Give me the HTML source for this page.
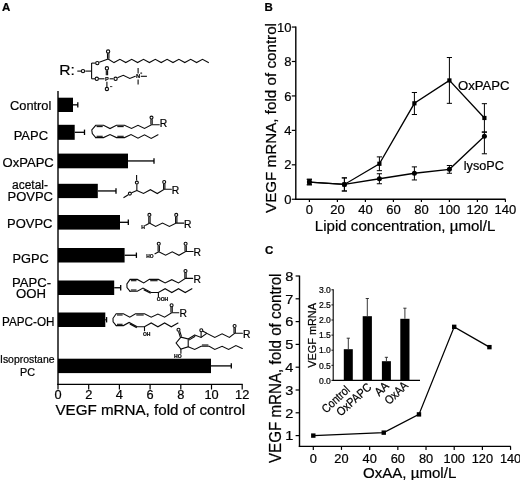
<!DOCTYPE html>
<html><head><meta charset="utf-8"><title>Figure</title>
<style>
html,body{margin:0;padding:0;background:#fff;}
body{width:520px;height:480px;overflow:hidden;}
svg{display:block;font-family:"Liberation Sans", sans-serif;filter:grayscale(1);}
text{stroke:#000;stroke-width:0.22px;}
</style></head><body>
<svg width="520" height="480" viewBox="0 0 520 480">
<rect width="520" height="480" fill="#fff"/>
<g opacity="0.999">
<text x="2" y="11" font-size="11.5" text-anchor="start" font-weight="bold" >A</text>
<text x="264.5" y="11" font-size="11.5" text-anchor="start" font-weight="bold" >B</text>
<text x="265" y="254.3" font-size="11.5" text-anchor="start" font-weight="bold" >C</text>
<line x1="58.0" y1="91" x2="58.0" y2="384.9" stroke="#000" stroke-width="1.4" stroke-linecap="butt"/>
<line x1="57.3" y1="384.3" x2="242.7" y2="384.3" stroke="#000" stroke-width="1.3" stroke-linecap="butt"/>
<line x1="58.0" y1="384.3" x2="58.0" y2="389.5" stroke="#000" stroke-width="1.2" stroke-linecap="butt"/>
<text x="58.0" y="399.4" font-size="12.8" text-anchor="middle" >0</text>
<line x1="88.7" y1="384.3" x2="88.7" y2="389.5" stroke="#000" stroke-width="1.2" stroke-linecap="butt"/>
<text x="88.7" y="399.4" font-size="12.8" text-anchor="middle" >2</text>
<line x1="119.4" y1="384.3" x2="119.4" y2="389.5" stroke="#000" stroke-width="1.2" stroke-linecap="butt"/>
<text x="119.4" y="399.4" font-size="12.8" text-anchor="middle" >4</text>
<line x1="150.1" y1="384.3" x2="150.1" y2="389.5" stroke="#000" stroke-width="1.2" stroke-linecap="butt"/>
<text x="150.1" y="399.4" font-size="12.8" text-anchor="middle" >6</text>
<line x1="180.8" y1="384.3" x2="180.8" y2="389.5" stroke="#000" stroke-width="1.2" stroke-linecap="butt"/>
<text x="180.8" y="399.4" font-size="12.8" text-anchor="middle" >8</text>
<line x1="211.5" y1="384.3" x2="211.5" y2="389.5" stroke="#000" stroke-width="1.2" stroke-linecap="butt"/>
<text x="211.5" y="399.4" font-size="12.8" text-anchor="middle" >10</text>
<line x1="242.2" y1="384.3" x2="242.2" y2="389.5" stroke="#000" stroke-width="1.2" stroke-linecap="butt"/>
<text x="242.2" y="399.4" font-size="12.8" text-anchor="middle" >12</text>
<text x="55.5" y="415" font-size="14.7" text-anchor="start" textLength="189.5" lengthAdjust="spacingAndGlyphs" >VEGF mRNA, fold of control</text>
<rect x="58.0" y="97.7" width="15.0" height="14.299999999999997" fill="#000"/>
<line x1="73.0" y1="104.85" x2="77.8" y2="104.85" stroke="#000" stroke-width="1.3" stroke-linecap="butt"/>
<line x1="77.8" y1="102.14999999999999" x2="77.8" y2="107.55" stroke="#000" stroke-width="1.3" stroke-linecap="butt"/>
<rect x="58.0" y="124.8" width="16.700000000000003" height="15.000000000000014" fill="#000"/>
<line x1="74.7" y1="132.3" x2="84.5" y2="132.3" stroke="#000" stroke-width="1.3" stroke-linecap="butt"/>
<line x1="84.5" y1="129.60000000000002" x2="84.5" y2="135.0" stroke="#000" stroke-width="1.3" stroke-linecap="butt"/>
<rect x="58.0" y="153.6" width="70.0" height="14.700000000000017" fill="#000"/>
<line x1="128.0" y1="160.95" x2="154.0" y2="160.95" stroke="#000" stroke-width="1.3" stroke-linecap="butt"/>
<line x1="154.0" y1="158.25" x2="154.0" y2="163.64999999999998" stroke="#000" stroke-width="1.3" stroke-linecap="butt"/>
<rect x="58.0" y="183.8" width="39.8" height="14.299999999999983" fill="#000"/>
<line x1="97.8" y1="190.95" x2="116.0" y2="190.95" stroke="#000" stroke-width="1.3" stroke-linecap="butt"/>
<line x1="116.0" y1="188.25" x2="116.0" y2="193.64999999999998" stroke="#000" stroke-width="1.3" stroke-linecap="butt"/>
<rect x="58.0" y="215.0" width="62.0" height="14.599999999999994" fill="#000"/>
<line x1="120.0" y1="222.3" x2="128.3" y2="222.3" stroke="#000" stroke-width="1.3" stroke-linecap="butt"/>
<line x1="128.3" y1="219.60000000000002" x2="128.3" y2="225.0" stroke="#000" stroke-width="1.3" stroke-linecap="butt"/>
<rect x="58.0" y="248.0" width="66.6" height="14.5" fill="#000"/>
<line x1="124.6" y1="255.25" x2="136.4" y2="255.25" stroke="#000" stroke-width="1.3" stroke-linecap="butt"/>
<line x1="136.4" y1="252.55" x2="136.4" y2="257.95" stroke="#000" stroke-width="1.3" stroke-linecap="butt"/>
<rect x="58.0" y="280.5" width="56.2" height="14.5" fill="#000"/>
<line x1="114.2" y1="287.75" x2="120.7" y2="287.75" stroke="#000" stroke-width="1.3" stroke-linecap="butt"/>
<line x1="120.7" y1="285.05" x2="120.7" y2="290.45" stroke="#000" stroke-width="1.3" stroke-linecap="butt"/>
<rect x="58.0" y="312.5" width="47.3" height="14.5" fill="#000"/>
<line x1="105.3" y1="319.75" x2="106.6" y2="319.75" stroke="#000" stroke-width="1.3" stroke-linecap="butt"/>
<line x1="106.6" y1="317.05" x2="106.6" y2="322.45" stroke="#000" stroke-width="1.3" stroke-linecap="butt"/>
<rect x="58.0" y="358.7" width="153.0" height="14.400000000000034" fill="#000"/>
<line x1="211.0" y1="365.9" x2="231.3" y2="365.9" stroke="#000" stroke-width="1.3" stroke-linecap="butt"/>
<line x1="231.3" y1="363.2" x2="231.3" y2="368.59999999999997" stroke="#000" stroke-width="1.3" stroke-linecap="butt"/>
<text x="10" y="110" font-size="13.7" text-anchor="start" textLength="41.3" lengthAdjust="spacingAndGlyphs" >Control</text>
<text x="13.7" y="139.5" font-size="13.7" text-anchor="start" textLength="34.3" lengthAdjust="spacingAndGlyphs" >PAPC</text>
<text x="2.5" y="167" font-size="13.7" text-anchor="start" textLength="51.3" lengthAdjust="spacingAndGlyphs" >OxPAPC</text>
<text x="12" y="188.7" font-size="13.7" text-anchor="start" textLength="36" lengthAdjust="spacingAndGlyphs" >acetal-</text>
<text x="7.5" y="201" font-size="13.7" text-anchor="start" textLength="45.5" lengthAdjust="spacingAndGlyphs" >POVPC</text>
<text x="7" y="227.5" font-size="13.7" text-anchor="start" textLength="45.5" lengthAdjust="spacingAndGlyphs" >POVPC</text>
<text x="12.5" y="262.5" font-size="13.7" text-anchor="start" textLength="36.3" lengthAdjust="spacingAndGlyphs" >PGPC</text>
<text x="12" y="287" font-size="13.7" text-anchor="start" textLength="39" lengthAdjust="spacingAndGlyphs" >PAPC-</text>
<text x="16" y="298" font-size="13.7" text-anchor="start" textLength="30" lengthAdjust="spacingAndGlyphs" >OOH</text>
<text x="2" y="325.8" font-size="13.7" text-anchor="start" textLength="52.5" lengthAdjust="spacingAndGlyphs" >PAPC-OH</text>
<text x="0" y="363" font-size="10.5" text-anchor="start" textLength="54.5" lengthAdjust="spacingAndGlyphs" >Isoprostane</text>
<text x="20" y="375.8" font-size="10.5" text-anchor="start" textLength="15" lengthAdjust="spacingAndGlyphs" >PC</text>
<text x="59.3" y="75.4" font-size="15" text-anchor="start" textLength="15.6" lengthAdjust="spacingAndGlyphs" >R:</text>
<line x1="77.3" y1="71.1" x2="81.0" y2="71.1" stroke="#0a0a0a" stroke-width="1.1" stroke-linecap="butt"/>
<circle cx="83" cy="71.1" r="1.6500000000000001" fill="#fff" stroke="#0a0a0a" stroke-width="1.1"/>
<line x1="85.3" y1="71.1" x2="91.6" y2="71.1" stroke="#0a0a0a" stroke-width="1.1" stroke-linecap="butt"/>
<line x1="91.6" y1="63.1" x2="91.6" y2="78.8" stroke="#0a0a0a" stroke-width="1.1" stroke-linecap="butt"/>
<line x1="91.6" y1="63.1" x2="95.3" y2="63.1" stroke="#0a0a0a" stroke-width="1.1" stroke-linecap="butt"/>
<line x1="91.6" y1="78.8" x2="95.0" y2="78.8" stroke="#0a0a0a" stroke-width="1.1" stroke-linecap="butt"/>
<circle cx="97.3" cy="63.1" r="1.6500000000000001" fill="#fff" stroke="#0a0a0a" stroke-width="1.1"/>
<circle cx="96.8" cy="78.8" r="1.6500000000000001" fill="#fff" stroke="#0a0a0a" stroke-width="1.1"/>
<line x1="99.2" y1="62.3" x2="108.1" y2="59.0" stroke="#0a0a0a" stroke-width="1.1" stroke-linecap="butt"/>
<line x1="107.5" y1="53.3" x2="107.5" y2="58.8" stroke="#0a0a0a" stroke-width="1.1" stroke-linecap="butt"/>
<line x1="108.9" y1="53.3" x2="108.9" y2="58.8" stroke="#0a0a0a" stroke-width="1.1" stroke-linecap="butt"/>
<circle cx="108.1" cy="51.5" r="1.6500000000000001" fill="#fff" stroke="#0a0a0a" stroke-width="1.1"/>
<polyline points="108.10,59.00 114.00,62.60 119.90,59.30 125.80,62.60 131.70,59.30 137.60,62.60 143.50,59.30 149.40,62.60 155.30,59.30 161.20,62.60 167.10,59.30 173.00,62.60 178.90,59.30 184.80,62.60 190.70,59.30 196.60,62.60 202.50,59.30 208.40,62.60" fill="none" stroke="#0a0a0a" stroke-width="1.1" stroke-linejoin="miter" stroke-linecap="round"/>
<line x1="99" y1="78.8" x2="104.5" y2="78.8" stroke="#0a0a0a" stroke-width="1.1" stroke-linecap="butt"/>
<text x="105.0" y="80.7" font-size="5.6" text-anchor="start" font-weight="bold" fill="#0a0a0a" >P</text>
<line x1="106.3" y1="70.2" x2="106.3" y2="75.3" stroke="#0a0a0a" stroke-width="1.1" stroke-linecap="butt"/>
<line x1="107.6" y1="70.2" x2="107.6" y2="75.3" stroke="#0a0a0a" stroke-width="1.1" stroke-linecap="butt"/>
<circle cx="106.9" cy="68.3" r="1.6500000000000001" fill="#fff" stroke="#0a0a0a" stroke-width="1.1"/>
<line x1="106.9" y1="81.8" x2="106.9" y2="87.0" stroke="#0a0a0a" stroke-width="1.1" stroke-linecap="butt"/>
<circle cx="106.9" cy="89.0" r="1.6500000000000001" fill="#fff" stroke="#0a0a0a" stroke-width="1.1"/>
<line x1="110" y1="86.6" x2="112.3" y2="86.6" stroke="#0a0a0a" stroke-width="0.8" stroke-linecap="butt"/>
<line x1="109.6" y1="78.8" x2="113.4" y2="78.8" stroke="#0a0a0a" stroke-width="1.1" stroke-linecap="butt"/>
<circle cx="115.6" cy="78.8" r="1.6500000000000001" fill="#fff" stroke="#0a0a0a" stroke-width="1.1"/>
<polyline points="118.00,77.60 123.30,75.30 129.80,78.50 135.30,76.30" fill="none" stroke="#0a0a0a" stroke-width="1.1" stroke-linejoin="miter" stroke-linecap="round"/>
<text x="136.0" y="78.4" font-size="5.8" text-anchor="start" font-weight="bold" fill="#0a0a0a" >N</text>
<line x1="138.1" y1="68.1" x2="138.1" y2="73.5" stroke="#0a0a0a" stroke-width="1.1" stroke-linecap="butt"/>
<line x1="138.1" y1="79.5" x2="138.1" y2="84.6" stroke="#0a0a0a" stroke-width="1.1" stroke-linecap="butt"/>
<line x1="140.8" y1="76.3" x2="146.9" y2="76.3" stroke="#0a0a0a" stroke-width="1.1" stroke-linecap="butt"/>
<line x1="140.2" y1="73.2" x2="142.2" y2="73.2" stroke="#0a0a0a" stroke-width="0.6" stroke-linecap="butt"/>
<line x1="141.2" y1="72.2" x2="141.2" y2="74.2" stroke="#0a0a0a" stroke-width="0.6" stroke-linecap="butt"/>
<polyline points="95.75,137.60 92.30,133.60 91.80,130.00 95.75,125.30 103.50,125.30 110.00,128.60 116.50,125.30 124.50,125.30 131.50,128.50 138.00,125.30 144.50,128.50 151.50,124.80 159.30,124.80" fill="none" stroke="#0a0a0a" stroke-width="1.1" stroke-linejoin="miter" stroke-linecap="round"/>
<line x1="96.55" y1="126.6" x2="102.7" y2="126.6" stroke="#0a0a0a" stroke-width="1.1" stroke-linecap="butt"/>
<line x1="117.3" y1="126.6" x2="123.7" y2="126.6" stroke="#0a0a0a" stroke-width="1.1" stroke-linecap="butt"/>
<line x1="150.9" y1="119.3" x2="150.9" y2="124.6" stroke="#0a0a0a" stroke-width="1.1" stroke-linecap="butt"/>
<line x1="152.2" y1="119.3" x2="152.2" y2="124.6" stroke="#0a0a0a" stroke-width="1.1" stroke-linecap="butt"/>
<circle cx="151.5" cy="117.6" r="1.5" fill="#fff" stroke="#0a0a0a" stroke-width="1.1"/>
<text x="159.8" y="126.6" font-size="10.3" text-anchor="start" >R</text>
<polyline points="95.75,137.60 103.50,137.60 110.00,134.60 116.50,137.60 124.50,137.60 131.00,134.60 138.00,138.20 144.50,134.80 151.20,138.40 158.00,134.80" fill="none" stroke="#0a0a0a" stroke-width="1.1" stroke-linejoin="miter" stroke-linecap="round"/>
<line x1="96.55" y1="136.29999999999998" x2="102.7" y2="136.29999999999998" stroke="#0a0a0a" stroke-width="1.1" stroke-linecap="butt"/>
<line x1="117.3" y1="136.29999999999998" x2="123.7" y2="136.29999999999998" stroke="#0a0a0a" stroke-width="1.1" stroke-linecap="butt"/>
<line x1="136.6" y1="175" x2="136.6" y2="180.6" stroke="#0a0a0a" stroke-width="1.1" stroke-linecap="butt"/>
<circle cx="136.85" cy="182.6" r="1.5" fill="#fff" stroke="#0a0a0a" stroke-width="1.1"/>
<line x1="136.85" y1="184.5" x2="136.85" y2="190.4" stroke="#0a0a0a" stroke-width="1.1" stroke-linecap="butt"/>
<circle cx="129.9" cy="193.6" r="1.5" fill="#fff" stroke="#0a0a0a" stroke-width="1.1"/>
<line x1="131.6" y1="192.8" x2="136.85" y2="190.4" stroke="#0a0a0a" stroke-width="1.1" stroke-linecap="butt"/>
<line x1="123.5" y1="197.8" x2="128.3" y2="194.7" stroke="#0a0a0a" stroke-width="1.1" stroke-linecap="butt"/>
<polyline points="136.85,190.40 143.50,193.50 150.40,189.70 157.30,193.50 164.20,189.30 171.40,189.30" fill="none" stroke="#0a0a0a" stroke-width="1.1" stroke-linejoin="miter" stroke-linecap="round"/>
<line x1="163.6" y1="183.8" x2="163.6" y2="189.0" stroke="#0a0a0a" stroke-width="1.1" stroke-linecap="butt"/>
<line x1="164.9" y1="183.8" x2="164.9" y2="189.0" stroke="#0a0a0a" stroke-width="1.1" stroke-linecap="butt"/>
<circle cx="164.2" cy="182.0" r="1.5" fill="#fff" stroke="#0a0a0a" stroke-width="1.1"/>
<text x="171.8" y="193.5" font-size="10.3" text-anchor="start" >R</text>
<text x="141.2" y="229.3" font-size="5.2" text-anchor="start" font-weight="bold" fill="#0a0a0a" >H</text>
<line x1="145.2" y1="225.6" x2="149.4" y2="223.2" stroke="#0a0a0a" stroke-width="1.1" stroke-linecap="butt"/>
<polyline points="149.40,223.10 155.60,226.50 162.50,223.10 169.40,226.50 176.25,223.10 183.80,223.10" fill="none" stroke="#0a0a0a" stroke-width="1.1" stroke-linejoin="miter" stroke-linecap="round"/>
<line x1="148.8" y1="216.9" x2="148.8" y2="222.9" stroke="#0a0a0a" stroke-width="1.1" stroke-linecap="butt"/>
<line x1="150.1" y1="216.9" x2="150.1" y2="222.9" stroke="#0a0a0a" stroke-width="1.1" stroke-linecap="butt"/>
<circle cx="149.4" cy="214.9" r="1.5" fill="#fff" stroke="#0a0a0a" stroke-width="1.1"/>
<line x1="175.6" y1="216.9" x2="175.6" y2="222.9" stroke="#0a0a0a" stroke-width="1.1" stroke-linecap="butt"/>
<line x1="176.9" y1="216.9" x2="176.9" y2="222.9" stroke="#0a0a0a" stroke-width="1.1" stroke-linecap="butt"/>
<circle cx="176.25" cy="214.9" r="1.5" fill="#fff" stroke="#0a0a0a" stroke-width="1.1"/>
<text x="184" y="227.7" font-size="10.3" text-anchor="start" >R</text>
<text x="146.3" y="257.9" font-size="4.6" text-anchor="start" font-weight="bold" textLength="7.3" lengthAdjust="spacingAndGlyphs" fill="#0a0a0a" >HO</text>
<line x1="154.6" y1="254.0" x2="158.75" y2="251.8" stroke="#0a0a0a" stroke-width="1.1" stroke-linecap="butt"/>
<polyline points="158.75,251.75 165.60,255.25 172.25,251.75 179.00,255.25 185.60,251.50 193.20,251.50" fill="none" stroke="#0a0a0a" stroke-width="1.1" stroke-linejoin="miter" stroke-linecap="round"/>
<line x1="158.1" y1="245.6" x2="158.1" y2="251.5" stroke="#0a0a0a" stroke-width="1.1" stroke-linecap="butt"/>
<line x1="159.4" y1="245.6" x2="159.4" y2="251.5" stroke="#0a0a0a" stroke-width="1.1" stroke-linecap="butt"/>
<circle cx="158.75" cy="243.7" r="1.5" fill="#fff" stroke="#0a0a0a" stroke-width="1.1"/>
<line x1="185.0" y1="245.6" x2="185.0" y2="251.3" stroke="#0a0a0a" stroke-width="1.1" stroke-linecap="butt"/>
<line x1="186.3" y1="245.6" x2="186.3" y2="251.3" stroke="#0a0a0a" stroke-width="1.1" stroke-linecap="butt"/>
<circle cx="185.6" cy="243.7" r="1.5" fill="#fff" stroke="#0a0a0a" stroke-width="1.1"/>
<text x="193.5" y="256.1" font-size="10.3" text-anchor="start" >R</text>
<polyline points="130.10,291.30 127.00,287.60 126.90,284.00 130.10,279.40 137.30,279.40 143.70,282.90 149.40,279.40 158.40,279.40 165.10,282.90 171.80,279.70 178.50,282.90 185.50,278.40 192.70,278.40" fill="none" stroke="#0a0a0a" stroke-width="1.1" stroke-linejoin="miter" stroke-linecap="round"/>
<line x1="130.9" y1="280.7" x2="136.49999999999997" y2="280.7" stroke="#0a0a0a" stroke-width="1.1" stroke-linecap="butt"/>
<line x1="150.20000000000002" y1="280.7" x2="157.6" y2="280.7" stroke="#0a0a0a" stroke-width="1.1" stroke-linecap="butt"/>
<line x1="184.85000000000002" y1="272.59999999999997" x2="184.85000000000002" y2="278.2" stroke="#0a0a0a" stroke-width="1.1" stroke-linecap="butt"/>
<line x1="186.15000000000003" y1="272.59999999999997" x2="186.15000000000003" y2="278.2" stroke="#0a0a0a" stroke-width="1.1" stroke-linecap="butt"/>
<circle cx="185.50000000000003" cy="271.0" r="1.5" fill="#fff" stroke="#0a0a0a" stroke-width="1.1"/>
<text x="193.50000000000003" y="283.0" font-size="10.3" text-anchor="start" >R</text>
<polyline points="130.10,291.30 137.30,291.30 143.00,288.10 151.10,292.50 158.40,292.50 165.10,288.70 171.80,292.50 178.50,288.70 185.20,292.50 191.90,288.70" fill="none" stroke="#0a0a0a" stroke-width="1.1" stroke-linejoin="miter" stroke-linecap="round"/>
<line x1="130.9" y1="290.0" x2="136.49999999999997" y2="290.0" stroke="#0a0a0a" stroke-width="1.1" stroke-linecap="butt"/>
<line x1="143.7" y1="289.6" x2="150.7" y2="293.3" stroke="#0a0a0a" stroke-width="1.2" stroke-linecap="butt"/>
<line x1="158.4" y1="292.5" x2="158.4" y2="296.90000000000003" stroke="#0a0a0a" stroke-width="1.1" stroke-linecap="butt"/>
<text x="156.79999999999998" y="301.3" font-size="4.6" text-anchor="start" font-weight="bold" textLength="11.4" lengthAdjust="spacingAndGlyphs" fill="#0a0a0a" >OOH</text>
<polyline points="116.20,325.60 113.10,321.90 113.00,318.30 116.20,313.70 123.40,313.70 129.80,317.20 135.50,313.70 144.50,313.70 151.20,317.20 157.90,314.00 164.60,317.20 171.60,312.70 178.80,312.70" fill="none" stroke="#0a0a0a" stroke-width="1.1" stroke-linejoin="miter" stroke-linecap="round"/>
<line x1="116.99999999999999" y1="315.0" x2="122.6" y2="315.0" stroke="#0a0a0a" stroke-width="1.1" stroke-linecap="butt"/>
<line x1="136.3" y1="315.0" x2="143.7" y2="315.0" stroke="#0a0a0a" stroke-width="1.1" stroke-linecap="butt"/>
<line x1="170.95000000000002" y1="306.9" x2="170.95000000000002" y2="312.5" stroke="#0a0a0a" stroke-width="1.1" stroke-linecap="butt"/>
<line x1="172.25000000000003" y1="306.9" x2="172.25000000000003" y2="312.5" stroke="#0a0a0a" stroke-width="1.1" stroke-linecap="butt"/>
<circle cx="171.60000000000002" cy="305.3" r="1.5" fill="#fff" stroke="#0a0a0a" stroke-width="1.1"/>
<text x="179.60000000000002" y="317.3" font-size="10.3" text-anchor="start" >R</text>
<polyline points="116.20,325.60 123.40,325.60 129.10,322.40 137.20,326.80 144.50,326.80 151.20,323.00 157.90,326.80 164.60,323.00 171.30,326.80 178.00,323.00" fill="none" stroke="#0a0a0a" stroke-width="1.1" stroke-linejoin="miter" stroke-linecap="round"/>
<line x1="116.99999999999999" y1="324.3" x2="122.6" y2="324.3" stroke="#0a0a0a" stroke-width="1.1" stroke-linecap="butt"/>
<line x1="129.79999999999998" y1="323.90000000000003" x2="136.79999999999998" y2="327.6" stroke="#0a0a0a" stroke-width="1.2" stroke-linecap="butt"/>
<line x1="144.5" y1="326.8" x2="144.5" y2="331.20000000000005" stroke="#0a0a0a" stroke-width="1.1" stroke-linecap="butt"/>
<text x="142.89999999999998" y="335.6" font-size="4.6" text-anchor="start" font-weight="bold" textLength="7.5" lengthAdjust="spacingAndGlyphs" fill="#0a0a0a" >OH</text>
<polyline points="180.90,337.10 188.20,339.00 188.20,346.80 180.90,349.00 176.10,343.00 180.90,337.10" fill="none" stroke="#0a0a0a" stroke-width="1.1" stroke-linejoin="miter" stroke-linecap="round"/>
<line x1="180.3" y1="337.0" x2="178.6" y2="331.6" stroke="#0a0a0a" stroke-width="1.1" stroke-linecap="butt"/>
<line x1="181.5" y1="336.6" x2="179.8" y2="331.2" stroke="#0a0a0a" stroke-width="1.1" stroke-linecap="butt"/>
<circle cx="178.5" cy="329.8" r="1.5" fill="#fff" stroke="#0a0a0a" stroke-width="1.1"/>
<line x1="180.9" y1="349" x2="180.9" y2="353.7" stroke="#0a0a0a" stroke-width="1.1" stroke-linecap="butt"/>
<text x="174.1" y="358.0" font-size="4.6" text-anchor="start" font-weight="bold" textLength="7.6" lengthAdjust="spacingAndGlyphs" fill="#0a0a0a" >HO</text>
<line x1="188.2" y1="339.0" x2="194.7" y2="335.0" stroke="#0a0a0a" stroke-width="1.1" stroke-linecap="butt"/>
<line x1="188.9" y1="340.1" x2="195.2" y2="336.2" stroke="#0a0a0a" stroke-width="1.1" stroke-linecap="butt"/>
<polyline points="194.70,335.00 201.10,337.40 206.80,333.30 214.80,337.40 222.10,333.80 229.40,337.40 234.60,333.30 242.40,333.30" fill="none" stroke="#0a0a0a" stroke-width="1.1" stroke-linejoin="miter" stroke-linecap="round"/>
<line x1="201.1" y1="337.4" x2="201.1" y2="332.0" stroke="#0a0a0a" stroke-width="1.1" stroke-linecap="butt"/>
<line x1="206.8" y1="333.3" x2="202.6" y2="331.0" stroke="#0a0a0a" stroke-width="1.1" stroke-linecap="butt"/>
<circle cx="201.3" cy="330.2" r="1.5" fill="#fff" stroke="#0a0a0a" stroke-width="1.1"/>
<line x1="234.0" y1="327.8" x2="234.0" y2="333.0" stroke="#0a0a0a" stroke-width="1.1" stroke-linecap="butt"/>
<line x1="235.3" y1="327.8" x2="235.3" y2="333.0" stroke="#0a0a0a" stroke-width="1.1" stroke-linecap="butt"/>
<circle cx="234.6" cy="326.0" r="1.5" fill="#fff" stroke="#0a0a0a" stroke-width="1.1"/>
<text x="243.0" y="337.7" font-size="10.3" text-anchor="start" >R</text>
<polyline points="188.20,346.80 194.70,349.50 201.10,346.30 209.20,346.30 214.80,349.50 222.10,346.30 228.60,349.50 235.90,345.50 242.30,348.40" fill="none" stroke="#0a0a0a" stroke-width="1.1" stroke-linejoin="miter" stroke-linecap="round"/>
<line x1="201.9" y1="345.0" x2="208.39999999999998" y2="345.0" stroke="#0a0a0a" stroke-width="1.1" stroke-linecap="butt"/>
<line x1="295.8" y1="26.4" x2="295.8" y2="199.9" stroke="#000" stroke-width="1.4" stroke-linecap="butt"/>
<line x1="295.1" y1="199.25" x2="505.6" y2="199.25" stroke="#000" stroke-width="1.3" stroke-linecap="butt"/>
<line x1="291.8" y1="199.25" x2="295.8" y2="199.25" stroke="#000" stroke-width="1.2" stroke-linecap="butt"/>
<text x="291.4" y="203.85" font-size="13" text-anchor="end" >0</text>
<line x1="291.8" y1="164.81" x2="295.8" y2="164.81" stroke="#000" stroke-width="1.2" stroke-linecap="butt"/>
<text x="291.4" y="169.41" font-size="13" text-anchor="end" >2</text>
<line x1="291.8" y1="130.37" x2="295.8" y2="130.37" stroke="#000" stroke-width="1.2" stroke-linecap="butt"/>
<text x="291.4" y="134.97" font-size="13" text-anchor="end" >4</text>
<line x1="291.8" y1="95.93" x2="295.8" y2="95.93" stroke="#000" stroke-width="1.2" stroke-linecap="butt"/>
<text x="291.4" y="100.53" font-size="13" text-anchor="end" >6</text>
<line x1="291.8" y1="61.49000000000001" x2="295.8" y2="61.49000000000001" stroke="#000" stroke-width="1.2" stroke-linecap="butt"/>
<text x="291.4" y="66.09" font-size="13" text-anchor="end" >8</text>
<line x1="291.8" y1="27.05000000000001" x2="295.8" y2="27.05000000000001" stroke="#000" stroke-width="1.2" stroke-linecap="butt"/>
<text x="291.4" y="31.650000000000013" font-size="13" text-anchor="end" >10</text>
<line x1="309.4" y1="199.25" x2="309.4" y2="202.05" stroke="#000" stroke-width="1.2" stroke-linecap="butt"/>
<text x="309.4" y="213.5" font-size="13" text-anchor="middle" >0</text>
<line x1="337.4" y1="199.25" x2="337.4" y2="202.05" stroke="#000" stroke-width="1.2" stroke-linecap="butt"/>
<text x="337.4" y="213.5" font-size="13" text-anchor="middle" >20</text>
<line x1="365.4" y1="199.25" x2="365.4" y2="202.05" stroke="#000" stroke-width="1.2" stroke-linecap="butt"/>
<text x="365.4" y="213.5" font-size="13" text-anchor="middle" >40</text>
<line x1="393.4" y1="199.25" x2="393.4" y2="202.05" stroke="#000" stroke-width="1.2" stroke-linecap="butt"/>
<text x="393.4" y="213.5" font-size="13" text-anchor="middle" >60</text>
<line x1="421.4" y1="199.25" x2="421.4" y2="202.05" stroke="#000" stroke-width="1.2" stroke-linecap="butt"/>
<text x="421.4" y="213.5" font-size="13" text-anchor="middle" >80</text>
<line x1="449.4" y1="199.25" x2="449.4" y2="202.05" stroke="#000" stroke-width="1.2" stroke-linecap="butt"/>
<text x="449.4" y="213.5" font-size="13" text-anchor="middle" >100</text>
<line x1="477.4" y1="199.25" x2="477.4" y2="202.05" stroke="#000" stroke-width="1.2" stroke-linecap="butt"/>
<text x="477.4" y="213.5" font-size="13" text-anchor="middle" >120</text>
<line x1="505.4" y1="199.25" x2="505.4" y2="202.05" stroke="#000" stroke-width="1.2" stroke-linecap="butt"/>
<text x="505.4" y="213.5" font-size="13" text-anchor="middle" >140</text>
<text x="314.8" y="231.4" font-size="14.6" text-anchor="start" textLength="180.5" lengthAdjust="spacingAndGlyphs" >Lipid concentration, µmol/L</text>
<text x="276.3" y="213" font-size="14.7" text-anchor="start" textLength="190" lengthAdjust="spacingAndGlyphs" transform="rotate(-90 276.3 213)" >VEGF mRNA, fold of control</text>
<polyline points="309.40,182.03 344.40,184.44 379.40,163.78 414.40,103.33 449.40,80.43 484.40,117.97" fill="none" stroke="#000" stroke-width="1.3" stroke-linejoin="miter" stroke-linecap="round"/>
<line x1="309.4" y1="179.2748" x2="309.4" y2="184.7852" stroke="#000" stroke-width="1.0" stroke-linecap="butt"/>
<line x1="306.79999999999995" y1="179.2748" x2="312.0" y2="179.2748" stroke="#000" stroke-width="1.0" stroke-linecap="butt"/>
<line x1="306.79999999999995" y1="184.7852" x2="312.0" y2="184.7852" stroke="#000" stroke-width="1.0" stroke-linecap="butt"/>
<rect x="307.29999999999995" y="179.93" width="4.2" height="4.2" fill="#000"/>
<line x1="344.4" y1="177.8972" x2="344.4" y2="190.9844" stroke="#000" stroke-width="1.0" stroke-linecap="butt"/>
<line x1="341.79999999999995" y1="177.8972" x2="347.0" y2="177.8972" stroke="#000" stroke-width="1.0" stroke-linecap="butt"/>
<line x1="341.79999999999995" y1="190.9844" x2="347.0" y2="190.9844" stroke="#000" stroke-width="1.0" stroke-linecap="butt"/>
<rect x="342.29999999999995" y="182.3408" width="4.2" height="4.2" fill="#000"/>
<line x1="379.4" y1="156.8888" x2="379.4" y2="170.6648" stroke="#000" stroke-width="1.0" stroke-linecap="butt"/>
<line x1="376.79999999999995" y1="156.8888" x2="382.0" y2="156.8888" stroke="#000" stroke-width="1.0" stroke-linecap="butt"/>
<line x1="376.79999999999995" y1="170.6648" x2="382.0" y2="170.6648" stroke="#000" stroke-width="1.0" stroke-linecap="butt"/>
<rect x="377.29999999999995" y="161.67680000000001" width="4.2" height="4.2" fill="#000"/>
<line x1="414.4" y1="92.486" x2="414.4" y2="114.5276" stroke="#000" stroke-width="1.0" stroke-linecap="butt"/>
<line x1="411.79999999999995" y1="92.486" x2="417.0" y2="92.486" stroke="#000" stroke-width="1.0" stroke-linecap="butt"/>
<line x1="411.79999999999995" y1="114.5276" x2="417.0" y2="114.5276" stroke="#000" stroke-width="1.0" stroke-linecap="butt"/>
<rect x="412.29999999999995" y="101.2346" width="4.2" height="4.2" fill="#000"/>
<line x1="449.4" y1="57.52940000000001" x2="449.4" y2="103.3346" stroke="#000" stroke-width="1.0" stroke-linecap="butt"/>
<line x1="446.79999999999995" y1="57.52940000000001" x2="452.0" y2="57.52940000000001" stroke="#000" stroke-width="1.0" stroke-linecap="butt"/>
<line x1="446.79999999999995" y1="103.3346" x2="452.0" y2="103.3346" stroke="#000" stroke-width="1.0" stroke-linecap="butt"/>
<rect x="447.29999999999995" y="78.33200000000001" width="4.2" height="4.2" fill="#000"/>
<line x1="484.4" y1="103.67900000000002" x2="484.4" y2="132.26420000000002" stroke="#000" stroke-width="1.0" stroke-linecap="butt"/>
<line x1="481.79999999999995" y1="103.67900000000002" x2="487.0" y2="103.67900000000002" stroke="#000" stroke-width="1.0" stroke-linecap="butt"/>
<line x1="481.79999999999995" y1="132.26420000000002" x2="487.0" y2="132.26420000000002" stroke="#000" stroke-width="1.0" stroke-linecap="butt"/>
<rect x="482.29999999999995" y="115.87160000000002" width="4.2" height="4.2" fill="#000"/>
<polyline points="309.40,182.03 344.40,184.44 379.40,178.76 414.40,173.25 449.40,169.29 484.40,136.22" fill="none" stroke="#000" stroke-width="1.3" stroke-linejoin="miter" stroke-linecap="round"/>
<line x1="309.4" y1="179.2748" x2="309.4" y2="184.7852" stroke="#000" stroke-width="1.0" stroke-linecap="butt"/>
<line x1="306.79999999999995" y1="179.2748" x2="312.0" y2="179.2748" stroke="#000" stroke-width="1.0" stroke-linecap="butt"/>
<line x1="306.79999999999995" y1="184.7852" x2="312.0" y2="184.7852" stroke="#000" stroke-width="1.0" stroke-linecap="butt"/>
<circle cx="309.4" cy="182.03" r="2.5" fill="#000"/>
<line x1="344.4" y1="177.8972" x2="344.4" y2="190.9844" stroke="#000" stroke-width="1.0" stroke-linecap="butt"/>
<line x1="341.79999999999995" y1="177.8972" x2="347.0" y2="177.8972" stroke="#000" stroke-width="1.0" stroke-linecap="butt"/>
<line x1="341.79999999999995" y1="190.9844" x2="347.0" y2="190.9844" stroke="#000" stroke-width="1.0" stroke-linecap="butt"/>
<circle cx="344.4" cy="184.4408" r="2.5" fill="#000"/>
<line x1="379.4" y1="173.7644" x2="379.4" y2="183.752" stroke="#000" stroke-width="1.0" stroke-linecap="butt"/>
<line x1="376.79999999999995" y1="173.7644" x2="382.0" y2="173.7644" stroke="#000" stroke-width="1.0" stroke-linecap="butt"/>
<line x1="376.79999999999995" y1="183.752" x2="382.0" y2="183.752" stroke="#000" stroke-width="1.0" stroke-linecap="butt"/>
<circle cx="379.4" cy="178.7582" r="2.5" fill="#000"/>
<line x1="414.4" y1="166.8764" x2="414.4" y2="179.96359999999999" stroke="#000" stroke-width="1.0" stroke-linecap="butt"/>
<line x1="411.79999999999995" y1="166.8764" x2="417.0" y2="166.8764" stroke="#000" stroke-width="1.0" stroke-linecap="butt"/>
<line x1="411.79999999999995" y1="179.96359999999999" x2="417.0" y2="179.96359999999999" stroke="#000" stroke-width="1.0" stroke-linecap="butt"/>
<circle cx="414.4" cy="173.2478" r="2.5" fill="#000"/>
<line x1="449.4" y1="165.49880000000002" x2="449.4" y2="173.2478" stroke="#000" stroke-width="1.0" stroke-linecap="butt"/>
<line x1="446.79999999999995" y1="165.49880000000002" x2="452.0" y2="165.49880000000002" stroke="#000" stroke-width="1.0" stroke-linecap="butt"/>
<line x1="446.79999999999995" y1="173.2478" x2="452.0" y2="173.2478" stroke="#000" stroke-width="1.0" stroke-linecap="butt"/>
<circle cx="449.4" cy="169.2872" r="2.5" fill="#000"/>
<line x1="484.4" y1="131.9198" x2="484.4" y2="153.7892" stroke="#000" stroke-width="1.0" stroke-linecap="butt"/>
<line x1="481.79999999999995" y1="131.9198" x2="487.0" y2="131.9198" stroke="#000" stroke-width="1.0" stroke-linecap="butt"/>
<line x1="481.79999999999995" y1="153.7892" x2="487.0" y2="153.7892" stroke="#000" stroke-width="1.0" stroke-linecap="butt"/>
<circle cx="484.4" cy="136.22480000000002" r="2.5" fill="#000"/>
<text x="458" y="90" font-size="13.7" text-anchor="start" textLength="51.5" lengthAdjust="spacingAndGlyphs" >OxPAPC</text>
<text x="463.8" y="169.5" font-size="13" text-anchor="start" textLength="40" lengthAdjust="spacingAndGlyphs" >lysoPC</text>
<line x1="299.5" y1="275.6" x2="299.5" y2="447.04999999999995" stroke="#000" stroke-width="1.4" stroke-linecap="butt"/>
<line x1="298.8" y1="446.4" x2="510.8" y2="446.4" stroke="#000" stroke-width="1.3" stroke-linecap="butt"/>
<line x1="295.6" y1="435.6" x2="299.5" y2="435.6" stroke="#000" stroke-width="1.2" stroke-linecap="butt"/>
<text x="293.3" y="440.40000000000003" font-size="13.5" text-anchor="end" textLength="8.1" lengthAdjust="spacingAndGlyphs" >1</text>
<line x1="295.6" y1="412.8" x2="299.5" y2="412.8" stroke="#000" stroke-width="1.2" stroke-linecap="butt"/>
<text x="293.3" y="417.6" font-size="13.5" text-anchor="end" textLength="8.1" lengthAdjust="spacingAndGlyphs" >2</text>
<line x1="295.6" y1="390.0" x2="299.5" y2="390.0" stroke="#000" stroke-width="1.2" stroke-linecap="butt"/>
<text x="293.3" y="394.8" font-size="13.5" text-anchor="end" textLength="8.1" lengthAdjust="spacingAndGlyphs" >3</text>
<line x1="295.6" y1="367.20000000000005" x2="299.5" y2="367.20000000000005" stroke="#000" stroke-width="1.2" stroke-linecap="butt"/>
<text x="293.3" y="372.00000000000006" font-size="13.5" text-anchor="end" textLength="8.1" lengthAdjust="spacingAndGlyphs" >4</text>
<line x1="295.6" y1="344.40000000000003" x2="299.5" y2="344.40000000000003" stroke="#000" stroke-width="1.2" stroke-linecap="butt"/>
<text x="293.3" y="349.20000000000005" font-size="13.5" text-anchor="end" textLength="8.1" lengthAdjust="spacingAndGlyphs" >5</text>
<line x1="295.6" y1="321.6" x2="299.5" y2="321.6" stroke="#000" stroke-width="1.2" stroke-linecap="butt"/>
<text x="293.3" y="326.40000000000003" font-size="13.5" text-anchor="end" textLength="8.1" lengthAdjust="spacingAndGlyphs" >6</text>
<line x1="295.6" y1="298.8" x2="299.5" y2="298.8" stroke="#000" stroke-width="1.2" stroke-linecap="butt"/>
<text x="293.3" y="303.6" font-size="13.5" text-anchor="end" textLength="8.1" lengthAdjust="spacingAndGlyphs" >7</text>
<line x1="295.6" y1="276.0" x2="299.5" y2="276.0" stroke="#000" stroke-width="1.2" stroke-linecap="butt"/>
<text x="293.3" y="280.8" font-size="13.5" text-anchor="end" textLength="8.1" lengthAdjust="spacingAndGlyphs" >8</text>
<line x1="313.3" y1="446.4" x2="313.3" y2="449.9" stroke="#000" stroke-width="1.2" stroke-linecap="butt"/>
<text x="313.3" y="462.9" font-size="12.8" text-anchor="middle" >0</text>
<line x1="341.48" y1="446.4" x2="341.48" y2="449.9" stroke="#000" stroke-width="1.2" stroke-linecap="butt"/>
<text x="341.48" y="462.9" font-size="12.8" text-anchor="middle" >20</text>
<line x1="369.66" y1="446.4" x2="369.66" y2="449.9" stroke="#000" stroke-width="1.2" stroke-linecap="butt"/>
<text x="369.66" y="462.9" font-size="12.8" text-anchor="middle" >40</text>
<line x1="397.84000000000003" y1="446.4" x2="397.84000000000003" y2="449.9" stroke="#000" stroke-width="1.2" stroke-linecap="butt"/>
<text x="397.84000000000003" y="462.9" font-size="12.8" text-anchor="middle" >60</text>
<line x1="426.02" y1="446.4" x2="426.02" y2="449.9" stroke="#000" stroke-width="1.2" stroke-linecap="butt"/>
<text x="426.02" y="462.9" font-size="12.8" text-anchor="middle" >80</text>
<line x1="454.20000000000005" y1="446.4" x2="454.20000000000005" y2="449.9" stroke="#000" stroke-width="1.2" stroke-linecap="butt"/>
<text x="454.20000000000005" y="462.9" font-size="12.8" text-anchor="middle" >100</text>
<line x1="482.38" y1="446.4" x2="482.38" y2="449.9" stroke="#000" stroke-width="1.2" stroke-linecap="butt"/>
<text x="482.38" y="462.9" font-size="12.8" text-anchor="middle" >120</text>
<line x1="510.56" y1="446.4" x2="510.56" y2="449.9" stroke="#000" stroke-width="1.2" stroke-linecap="butt"/>
<text x="510.56" y="462.9" font-size="12.8" text-anchor="middle" >140</text>
<text x="363" y="477.6" font-size="14.7" text-anchor="start" textLength="93.3" lengthAdjust="spacingAndGlyphs" >OxAA, µmol/L</text>
<text x="281.4" y="463" font-size="16.2" text-anchor="start" textLength="189.5" lengthAdjust="spacingAndGlyphs" transform="rotate(-90 281.4 463)" >VEGF mRNA, fold of control</text>
<polyline points="313.30,435.60 383.75,432.64 418.98,414.40 454.20,326.84 489.43,347.14" fill="none" stroke="#000" stroke-width="1.3" stroke-linejoin="miter" stroke-linecap="round"/>
<rect x="311.1" y="433.40000000000003" width="4.4" height="4.4" fill="#000"/>
<rect x="381.55" y="430.43600000000004" width="4.4" height="4.4" fill="#000"/>
<rect x="416.77500000000003" y="412.196" width="4.4" height="4.4" fill="#000"/>
<rect x="452.00000000000006" y="324.64400000000006" width="4.4" height="4.4" fill="#000"/>
<rect x="487.225" y="344.93600000000004" width="4.4" height="4.4" fill="#000"/>
<line x1="333.2" y1="289.3" x2="333.2" y2="380.9" stroke="#000" stroke-width="1.1" stroke-linecap="butt"/>
<line x1="332.7" y1="380.4" x2="420" y2="380.4" stroke="#000" stroke-width="1.1" stroke-linecap="butt"/>
<line x1="331.4" y1="380.4" x2="333.2" y2="380.4" stroke="#000" stroke-width="0.9" stroke-linecap="butt"/>
<text x="330.9" y="383.59999999999997" font-size="8.6" text-anchor="end" >0.0</text>
<line x1="331.4" y1="365.29999999999995" x2="333.2" y2="365.29999999999995" stroke="#000" stroke-width="0.9" stroke-linecap="butt"/>
<text x="330.9" y="368.49999999999994" font-size="8.6" text-anchor="end" >0.5</text>
<line x1="331.4" y1="350.2" x2="333.2" y2="350.2" stroke="#000" stroke-width="0.9" stroke-linecap="butt"/>
<text x="330.9" y="353.4" font-size="8.6" text-anchor="end" >1.0</text>
<line x1="331.4" y1="335.09999999999997" x2="333.2" y2="335.09999999999997" stroke="#000" stroke-width="0.9" stroke-linecap="butt"/>
<text x="330.9" y="338.29999999999995" font-size="8.6" text-anchor="end" >1.5</text>
<line x1="331.4" y1="320.0" x2="333.2" y2="320.0" stroke="#000" stroke-width="0.9" stroke-linecap="butt"/>
<text x="330.9" y="323.2" font-size="8.6" text-anchor="end" >2.0</text>
<line x1="331.4" y1="304.9" x2="333.2" y2="304.9" stroke="#000" stroke-width="0.9" stroke-linecap="butt"/>
<text x="330.9" y="308.09999999999997" font-size="8.6" text-anchor="end" >2.5</text>
<line x1="331.4" y1="289.79999999999995" x2="333.2" y2="289.79999999999995" stroke="#000" stroke-width="0.9" stroke-linecap="butt"/>
<text x="330.9" y="292.99999999999994" font-size="8.6" text-anchor="end" >3.0</text>
<text x="316" y="367.7" font-size="10.6" text-anchor="start" textLength="64.6" lengthAdjust="spacingAndGlyphs" transform="rotate(-90 316 367.7)" >VEGF mRNA</text>
<rect x="343.8" y="349.2" width="9.0" height="31.19999999999999" fill="#000"/>
<line x1="348.3" y1="338.2" x2="348.3" y2="349.2" stroke="#222" stroke-width="0.9" stroke-linecap="butt"/>
<line x1="346.7" y1="338.2" x2="349.90000000000003" y2="338.2" stroke="#222" stroke-width="0.9" stroke-linecap="butt"/>
<text x="350.7" y="390.8" font-size="12" text-anchor="end" textLength="33.5" lengthAdjust="spacingAndGlyphs" transform="rotate(-43 350.7 390.8)" >Control</text>
<rect x="362.7" y="316.2" width="9.199999999999989" height="64.19999999999999" fill="#000"/>
<line x1="367.29999999999995" y1="298.5" x2="367.29999999999995" y2="316.2" stroke="#222" stroke-width="0.9" stroke-linecap="butt"/>
<line x1="365.69999999999993" y1="298.5" x2="368.9" y2="298.5" stroke="#222" stroke-width="0.9" stroke-linecap="butt"/>
<text x="372.4" y="388.3" font-size="12" text-anchor="end" textLength="42.6" lengthAdjust="spacingAndGlyphs" transform="rotate(-42 372.4 388.3)" >OxPAPC</text>
<rect x="381.9" y="361.2" width="9.0" height="19.19999999999999" fill="#000"/>
<line x1="386.4" y1="357.3" x2="386.4" y2="361.2" stroke="#222" stroke-width="0.9" stroke-linecap="butt"/>
<line x1="384.79999999999995" y1="357.3" x2="388.0" y2="357.3" stroke="#222" stroke-width="0.9" stroke-linecap="butt"/>
<text x="389.5" y="386.9" font-size="12" text-anchor="end" textLength="14.2" lengthAdjust="spacingAndGlyphs" transform="rotate(-44 389.5 386.9)" >AA</text>
<rect x="400.3" y="318.8" width="9.199999999999989" height="61.599999999999966" fill="#000"/>
<line x1="404.9" y1="308.2" x2="404.9" y2="318.8" stroke="#222" stroke-width="0.9" stroke-linecap="butt"/>
<line x1="403.29999999999995" y1="308.2" x2="406.5" y2="308.2" stroke="#222" stroke-width="0.9" stroke-linecap="butt"/>
<text x="408.9" y="386.3" font-size="12" text-anchor="end" textLength="27.4" lengthAdjust="spacingAndGlyphs" transform="rotate(-44 408.9 386.3)" >OxAA</text>
</g>
</svg>
</body></html>
